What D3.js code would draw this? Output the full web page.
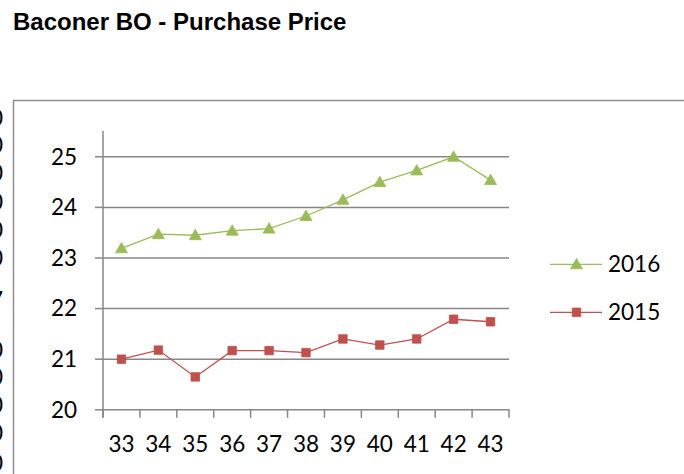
<!DOCTYPE html>
<html>
<head>
<meta charset="utf-8">
<script src="https://cdn.jsdelivr.net/npm/d3@7"></script>
<style>
  body { margin: 0; background: #fff; }
  svg { display: block; }
  .tick-label { font-family: Lato, "Open Sans", sans-serif; font-size: 22.5px; fill: #000; }
</style>
</head>
<body>
<svg width="684" height="474"></svg>
<script>
// weeks on the x axis
var weeks = ["33", "34", "35", "36", "37", "38", "39", "40", "41", "42", "43"];
// purchase price per week
var price2016 = [23.18, 23.46, 23.44, 23.53, 23.57, 23.82, 24.14, 24.49, 24.72, 24.99, 24.53];
var price2015 = [20.99, 21.17, 20.64, 21.16, 21.16, 21.12, 21.39, 21.27, 21.39, 21.78, 21.73];
var yTicks = [20, 21, 22, 23, 24, 25];
var seriesNames = ["2016", "2015"];
// bits of a neighbouring chart's labels cut off at the left edge
var edgeGlyphs = ["0", "0", "0", "0", "0", "0", "7", "0", "0", "0", "0", "0"];
var edgeGlyphY = [118, 145, 173, 202, 230, 258, 300, 350, 377, 405, 433, 463];

var svg = d3.select("svg");
var plot = { left: 103, right: 509, top: 131, bottom: 409.3 };
var green = "#9bbb59";
var red = "#c0504d";
var axisGrey = "#878787";

// outer frame (cut by the window on top right)
svg.append("path")
  .attr("d", "M13.5,474 V100.5 H684")
  .attr("fill", "none")
  .attr("stroke", "#8e8e8e")
  .attr("stroke-width", 1.5);

svg.append("text")
  .attr("x", 13)
  .attr("y", 29.5)
  .style("font-family", "'Liberation Sans', Arial, sans-serif")
  .style("font-weight", "bold")
  .style("font-size", "24px")
  .text("Baconer BO - Purchase Price");

svg.selectAll(".edge")
  .data(edgeGlyphs)
  .enter()
  .append("text")
  .attr("class", "tick-label edge")
  .attr("x", 3)
  .attr("y", function (d, i) { return edgeGlyphY[i]; })
  .attr("dy", "0.35em")
  .attr("text-anchor", "end")
  .text(function (d) { return d; });

var xScale = d3.scaleBand(weeks, [plot.left, plot.right]);
var yScale = d3.scaleLinear([20, 25.5], [plot.bottom, plot.top]);
var xMid = function (d, i) { return xScale(weeks[i]) + xScale.bandwidth() / 2; };

// y axis with gridlines
var yAxis = svg.append("g")
  .attr("transform", `translate(${plot.left},0)`)
  .call(d3.axisLeft(yScale).tickValues(yTicks).tickSize(8).tickFormat(d3.format("d")));
yAxis.select(".domain").remove();
yAxis.selectAll(".tick line").attr("stroke", axisGrey).attr("stroke-width", 1.5);
yAxis.selectAll(".tick text").attr("class", "tick-label").attr("x", -26).attr("dy", "0.35em");
yAxis.selectAll(".tick")
  .append("line")
  .attr("x1", 0)
  .attr("x2", plot.right - plot.left)
  .attr("stroke", axisGrey)
  .attr("stroke-width", 1.5);

svg.append("line")
  .attr("x1", plot.left).attr("x2", plot.left)
  .attr("y1", plot.top).attr("y2", plot.bottom + 8.5)
  .attr("stroke", axisGrey)
  .attr("stroke-width", 1.5);

// x axis: ticks between categories, labels centred
var xAxis = svg.append("g")
  .attr("transform", `translate(0,${plot.bottom})`)
  .call(d3.axisBottom(xScale).tickSize(0).tickPadding(0));
xAxis.select(".domain").remove();
xAxis.selectAll(".tick text").attr("class", "tick-label").attr("y", 43).attr("dy", 0);
svg.selectAll(".xtick")
  .data(weeks.concat(["end"]))
  .enter()
  .append("line")
  .attr("class", "xtick")
  .attr("x1", function (d, i) { return i < weeks.length ? xScale(d) : plot.right; })
  .attr("x2", function (d, i) { return i < weeks.length ? xScale(d) : plot.right; })
  .attr("y1", plot.bottom)
  .attr("y2", plot.bottom + 8.5)
  .attr("stroke", axisGrey)
  .attr("stroke-width", 1.5);

var line = d3.line()
  .x(xMid)
  .y(function (d) { return yScale(d); });

var series = [
  { name: seriesNames[0], values: price2016, color: green, symbol: d3.symbolTriangle, size: 62 },
  { name: seriesNames[1], values: price2015, color: red, symbol: d3.symbolSquare, size: 72 }
];

series.forEach(function (s) {
  svg.append("path")
    .datum(s.values)
    .attr("d", line)
    .attr("fill", "none")
    .attr("stroke", s.color)
    .attr("stroke-width", 1.3);

  svg.selectAll(null)
    .data(s.values)
    .enter()
    .append("path")
    .attr("d", d3.symbol(s.symbol, s.size))
    .attr("transform", function (d, i) {
      var dy = s.symbol === d3.symbolTriangle ? 1 : 0;
      return `translate(${xMid(d, i)},${yScale(d) + dy})`;
    })
    .attr("fill", s.color)
    .attr("stroke", s.color)
    .attr("stroke-width", 0.8);
});

// legend
var legendY = [264.3, 312.3];
var legend = svg.selectAll(".legend")
  .data(series)
  .enter()
  .append("g")
  .attr("class", "legend")
  .attr("transform", function (d, i) { return `translate(550,${legendY[i]})`; });
legend.append("line")
  .attr("x1", 0).attr("x2", 52)
  .attr("stroke", function (d) { return d.color; })
  .attr("stroke-width", 1.3);
legend.append("path")
  .attr("d", function (d) { return d3.symbol(d.symbol, d.size)(); })
  .attr("transform", function (d) { return `translate(26.5,${d.symbol === d3.symbolTriangle ? 1 : 0})`; })
  .attr("fill", function (d) { return d.color; })
  .attr("stroke", function (d) { return d.color; })
  .attr("stroke-width", 0.8);
legend.append("text")
  .attr("class", "tick-label")
  .attr("x", 58)
  .attr("dy", "0.35em")
  .text(function (d) { return d.name; });
</script>
</body>
</html>
